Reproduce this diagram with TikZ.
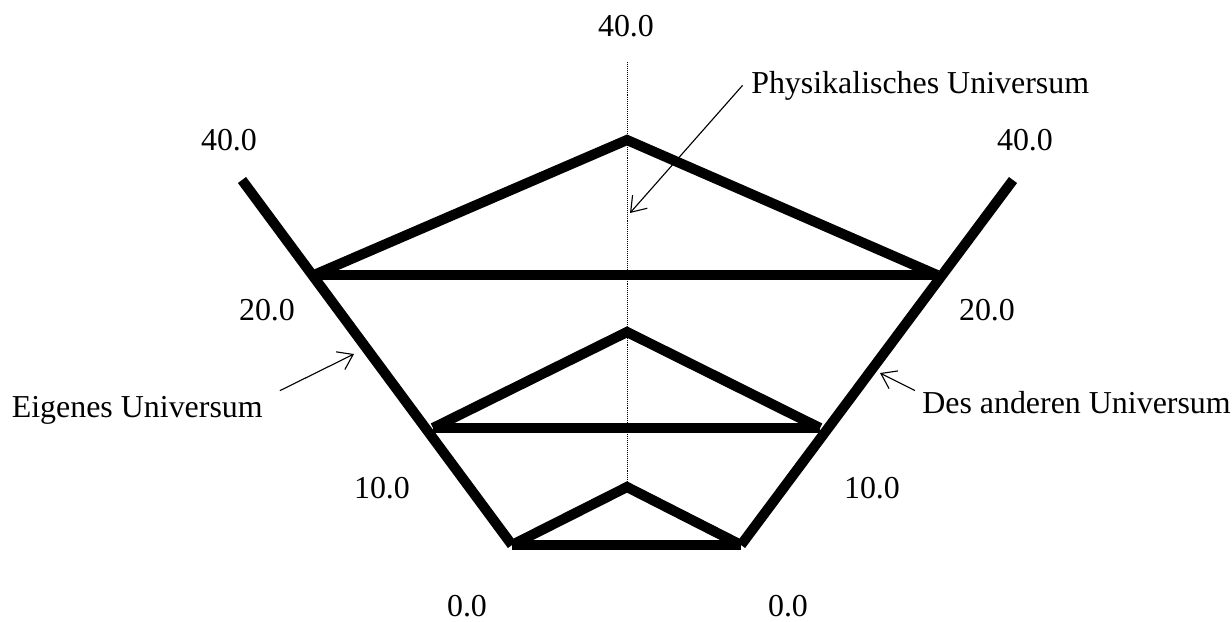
\documentclass[tikz,border=0pt]{standalone}
\usepackage{fontspec}
\setmainfont{Liberation Serif}
\usetikzlibrary{arrows.meta}

\tikzset{
  worldline/.style={line width=7.2pt, line cap=butt, line join=miter},
  axisdot/.style={line width=0.5pt, dash pattern=on 0.7pt off 0.7pt},
  pointer/.style={line width=0.8pt, -{Straight Barb[length=10pt,width=14pt]}},
  tick/.style={inner sep=0pt},
  caption/.style={inner sep=0pt}
}

\begin{document}
\begin{tikzpicture}[x=0.025cm, y=-0.025cm, font=\fontsize{22.7}{27}\selectfont]
  \useasboundingbox (0,0) rectangle (1232,621);

  % light cone edges
  \coordinate (L40) at (242,180);
  \coordinate (L0)  at (512,545);
  \coordinate (R40) at (1013,180);
  \coordinate (R0)  at (741,545);
  \draw[worldline] (L40) -- (L0);
  \draw[worldline] (R40) -- (R0);

  % time slices
  \foreach \n/\y/\a/\xl/\xr in {
    0/545/487/512/741,
    10/428/332/433/820,
    20/275/140/314/937
  } {
    \coordinate (apex\n) at (627,\a);
    \draw[worldline] (\xl,\y) -- (apex\n) -- (\xr,\y);
    \draw[worldline] (\xl,\y) -- (\xr,\y);
  }

  % axis
  \coordinate (axTop) at (627,62);
  \draw[axisdot] (axTop) -- (apex0);

  % time labels
  \foreach \x/\y/\t/\n in {
    626/26/40.0/tTop,
    229/140/40.0/tL40, 1025/140/40.0/tR40,
    267/310/20.0/tL20, 987/310/20.0/tR20,
    382/488/10.0/tL10, 872/488/10.0/tR10,
    467/606/0.0/tL0,   788/606/0.0/tR0
  } {
    \node[tick] (\n) at (\x,\y) {\t};
  }

  % captions
  \node[caption, anchor=base west] (phys) at (751,93) {Physikalisches Universum};
  \node[caption, anchor=base east] (eigen) at (263,417) {Eigenes Universum};
  \node[caption, anchor=base west] (other) at (922,413) {Des anderen Universum};

  \coordinate (physTip)  at (630,213);
  \coordinate (eigenTip) at (354,354);
  \coordinate (otherTip) at (880,373);
  \draw[pointer] ([xshift=-6pt]phys.west) -- (physTip);
  \draw[pointer] ([shift={(12pt,3.5pt)}]eigen.north east) -- (eigenTip);
  \draw[pointer] ([xshift=-5pt]other.north west) -- (otherTip);
\end{tikzpicture}
\end{document}
